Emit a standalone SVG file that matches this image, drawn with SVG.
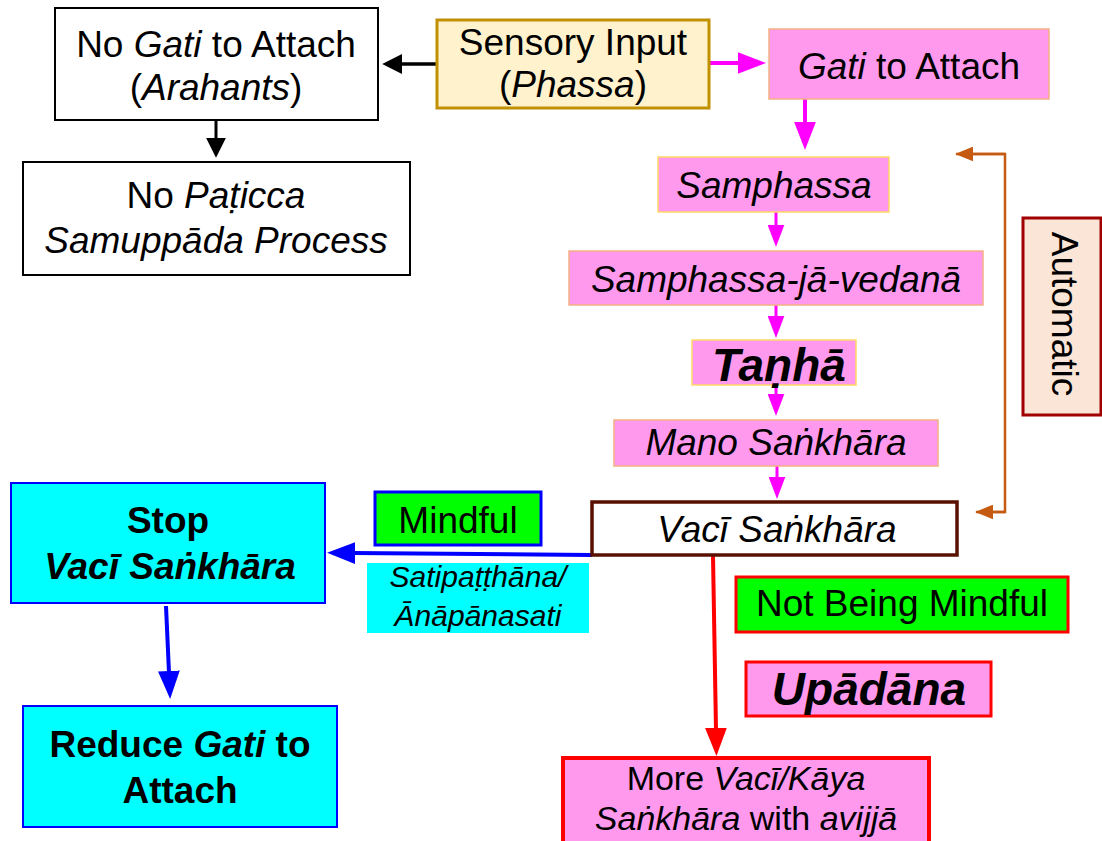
<svg xmlns="http://www.w3.org/2000/svg" width="1102" height="841" viewBox="0 0 1102 841">
<style>
text{font-family:"Liberation Sans",Arial,"DejaVu Sans",sans-serif;font-size:37px;fill:#000;text-anchor:middle}
.i{font-style:italic}
.b{font-weight:bold}
.pink{fill:#FF99EE}
.pb1{stroke:#F4B183;stroke-width:1.5}
.pb2{stroke:#FFD966;stroke-width:1.5}
.wb{fill:#fff;stroke:#000;stroke-width:2}
.cyan{fill:#00FFFF;stroke:#0000FF;stroke-width:2}
</style>
<defs>
<marker id="mBlk" markerUnits="userSpaceOnUse" markerWidth="20" markerHeight="20" viewBox="0 0 18 18" refX="2" refY="9" orient="auto"><path d="M0,0 L18,9 L0,18 z" fill="#000"/></marker>
<marker id="mMagL" markerUnits="userSpaceOnUse" markerWidth="28" markerHeight="22" viewBox="0 0 27 21" refX="2" refY="10.5" orient="auto"><path d="M0,0 L27,10.5 L0,21 z" fill="#FF00FF"/></marker>
<marker id="mMagS" markerUnits="userSpaceOnUse" markerWidth="22" markerHeight="17" viewBox="0 0 21 16" refX="2" refY="8" orient="auto"><path d="M0,0 L21,8 L0,16 z" fill="#FF00FF"/></marker>
<marker id="mBlue" markerUnits="userSpaceOnUse" markerWidth="28" markerHeight="22" viewBox="0 0 27 21" refX="2" refY="10.5" orient="auto"><path d="M0,0 L27,10.5 L0,21 z" fill="#0000FF"/></marker>
<marker id="mRed" markerUnits="userSpaceOnUse" markerWidth="28" markerHeight="22" viewBox="0 0 27 21" refX="2" refY="10.5" orient="auto"><path d="M0,0 L27,10.5 L0,21 z" fill="#FF0000"/></marker>
<marker id="mBrn" markerUnits="userSpaceOnUse" markerWidth="18" markerHeight="15" viewBox="0 0 17 14" refX="2" refY="7" orient="auto"><path d="M0,0 L17,7 L0,14 z" fill="#C55A11"/></marker>
</defs>

<g id="connectors" fill="none">
<line x1="437" y1="64" x2="400" y2="64" stroke="#000" stroke-width="3.5" marker-end="url(#mBlk)"/>
<line x1="216" y1="120" x2="216" y2="140" stroke="#000" stroke-width="3" marker-end="url(#mBlk)"/>
<line x1="710" y1="63" x2="740" y2="63" stroke="#FF00FF" stroke-width="4" marker-end="url(#mMagL)"/>
<line x1="805" y1="99" x2="805" y2="124" stroke="#FF00FF" stroke-width="4" marker-end="url(#mMagL)"/>
<line x1="776" y1="212" x2="776" y2="227" stroke="#FF00FF" stroke-width="3" marker-end="url(#mMagS)"/>
<line x1="776" y1="305" x2="776" y2="318" stroke="#FF00FF" stroke-width="3" marker-end="url(#mMagS)"/>
<line x1="776" y1="385" x2="776" y2="396" stroke="#FF00FF" stroke-width="3" marker-end="url(#mMagS)"/>
<line x1="777" y1="466" x2="777" y2="479" stroke="#FF00FF" stroke-width="3" marker-end="url(#mMagS)"/>
<polyline points="976,512 1005,512 1005,154 956,154" stroke="#C55A11" stroke-width="2.5"/>
<line x1="1005" y1="154" x2="971" y2="154" stroke="#C55A11" stroke-width="2.5" marker-end="url(#mBrn)"/>
<line x1="1005" y1="512" x2="991" y2="512" stroke="#C55A11" stroke-width="2.5" marker-end="url(#mBrn)"/>
<line x1="592" y1="555" x2="353" y2="553" stroke="#0000FF" stroke-width="4" marker-end="url(#mBlue)"/>
<line x1="166" y1="606" x2="169" y2="673" stroke="#0000FF" stroke-width="4" marker-end="url(#mBlue)"/>
<line x1="713" y1="556" x2="716" y2="730" stroke="#FF0000" stroke-width="4" marker-end="url(#mRed)"/>
</g>

<g id="no-gati">
<rect x="55" y="8" width="323" height="112" class="wb"/>
<text x="216" y="57">No <tspan class="i">Gati</tspan> to Attach</text>
<text x="216" y="100">(<tspan class="i">Arahants</tspan>)</text>
</g>
<g id="no-ps">
<rect x="23" y="162" width="387" height="113" class="wb"/>
<text x="216" y="208">No <tspan class="i">Paṭicca</tspan></text>
<text x="216" y="253" class="i">Samuppāda Process</text>
</g>
<g id="sensory">
<rect x="437" y="20" width="272" height="88" fill="#FFF2CC" stroke="#BF9000" stroke-width="3"/>
<text x="573" y="55">Sensory Input</text>
<text x="573" y="97">(<tspan class="i">Phassa</tspan>)</text>
</g>
<g id="gati">
<rect x="769" y="29" width="280" height="70" class="pink pb1"/>
<text x="909" y="79"><tspan class="i">Gati</tspan> to Attach</text>
</g>
<g id="samphassa">
<rect x="658" y="157" width="231" height="55" class="pink pb2"/>
<text x="774" y="198" class="i">Samphassa</text>
</g>
<g id="vedana">
<rect x="569" y="251" width="414" height="54" class="pink pb1"/>
<text x="776" y="292" class="i">Samphassa-jā-vedanā</text>
</g>
<g id="tanha">
<rect x="692" y="340" width="164" height="45" class="pink pb2"/>
<text x="779" y="381" class="b i" style="font-size:46px">Taṇhā</text>
</g>
<g id="mano">
<rect x="614" y="420" width="324" height="46" class="pink pb1"/>
<text x="776" y="455" class="i">Mano Saṅkhāra</text>
</g>
<g id="vaci">
<rect x="592" y="502" width="365" height="53" fill="#fff" stroke="#5A1000" stroke-width="3.5"/>
<text x="777" y="542" class="i">Vacī Saṅkhāra</text>
</g>
<g id="automatic">
<rect x="1023" y="218" width="78" height="197" fill="#FBE5D6" stroke="#A00000" stroke-width="3"/>
<text transform="translate(1052,314) rotate(90)" x="0" y="0">Automatic</text>
</g>
<g id="stop">
<rect x="11" y="483" width="314" height="120" class="cyan"/>
<text x="168" y="533" class="b">Stop</text>
<text x="170" y="579" class="b i">Vacī Saṅkhāra</text>
</g>
<g id="reduce">
<rect x="23" y="706" width="314" height="121" class="cyan"/>
<text x="180" y="757" class="b">Reduce <tspan class="i">Gati</tspan> to</text>
<text x="180" y="803" class="b">Attach</text>
</g>
<g id="mindful">
<rect x="375" y="492" width="166" height="53" fill="#00FF00" stroke="#0000FF" stroke-width="3"/>
<text x="458" y="533">Mindful</text>
</g>
<g id="satipatthana">
<rect x="367" y="563" width="222" height="70" fill="#00FFFF"/>
<text x="478" y="587" class="i" style="font-size:30px">Satipaṭṭhāna/</text>
<text x="478" y="626" class="i" style="font-size:30px">Ānāpānasati</text>
</g>
<g id="not-mindful">
<rect x="736" y="577" width="332" height="55" fill="#00FF00" stroke="#FF0000" stroke-width="3"/>
<text x="902" y="616">Not Being Mindful</text>
</g>
<g id="upadana">
<rect x="746" y="662" width="245" height="54" fill="#FF99EE" stroke="#FF0000" stroke-width="3"/>
<text x="869" y="705" class="b i" style="font-size:46px">Upādāna</text>
</g>
<g id="more-vaci">
<rect x="563" y="758" width="366" height="90" fill="#FF99EE" stroke="#FF0000" stroke-width="4"/>
<text x="746" y="790" style="font-size:34px">More <tspan class="i">Vacī/Kāya</tspan></text>
<text x="746" y="830" style="font-size:34px"><tspan class="i">Saṅkhāra</tspan> with <tspan class="i">avijjā</tspan></text>
</g>
</svg>
